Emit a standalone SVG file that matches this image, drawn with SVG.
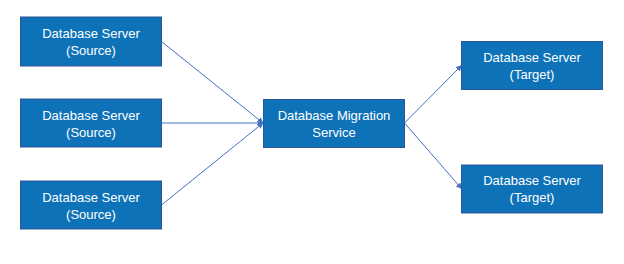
<svg xmlns="http://www.w3.org/2000/svg" width="624" height="264" viewBox="0 0 624 264">
<defs>
<style>
.box{fill:#0E72B8;stroke:#2F5597;stroke-width:1}
.lbl{font-family:"Liberation Sans",Arial,sans-serif;font-size:13px;fill:#FFFFFF;text-anchor:middle}
.con{stroke:#4472C4;stroke-width:1;fill:none;marker-end:url(#arr)}
</style>
<marker id="arr" viewBox="0 0 10 10" refX="9" refY="5" markerWidth="6" markerHeight="6" orient="auto" markerUnits="userSpaceOnUse">
<path d="M0,0 L10,5 L0,10 z" fill="#4472C4"/>
</marker>
</defs>
<rect width="624" height="264" fill="#FFFFFF"/>
<g id="connectors">
<line class="con" x1="161.5" y1="41.5" x2="263" y2="123"/>
<line class="con" x1="161.5" y1="123" x2="263" y2="123"/>
<line class="con" x1="161.5" y1="205" x2="263" y2="123"/>
<line class="con" x1="404.5" y1="123" x2="461.5" y2="65.5"/>
<line class="con" x1="404.5" y1="123" x2="461.5" y2="188.5"/>
</g>
<g id="source1">
<rect class="box" x="20.5" y="17" width="141" height="49"/>
<text class="lbl" x="91" y="38">Database Server</text>
<text class="lbl" x="91" y="55">(Source)</text>
</g>
<g id="source2">
<rect class="box" x="20.5" y="99" width="141" height="48"/>
<text class="lbl" x="91" y="119.5">Database Server</text>
<text class="lbl" x="91" y="136.5">(Source)</text>
</g>
<g id="source3">
<rect class="box" x="20.5" y="181" width="141" height="48"/>
<text class="lbl" x="91" y="201.5">Database Server</text>
<text class="lbl" x="91" y="218.5">(Source)</text>
</g>
<g id="dms">
<rect class="box" x="263.5" y="99.5" width="141" height="48"/>
<text class="lbl" x="334" y="119.5">Database Migration</text>
<text class="lbl" x="334" y="136.5">Service</text>
</g>
<g id="target1">
<rect class="box" x="461.5" y="41.5" width="141" height="48"/>
<text class="lbl" x="532" y="61.5">Database Server</text>
<text class="lbl" x="532" y="78.5">(Target)</text>
</g>
<g id="target2">
<rect class="box" x="461.5" y="165" width="141" height="48"/>
<text class="lbl" x="532" y="185">Database Server</text>
<text class="lbl" x="532" y="202">(Target)</text>
</g>
</svg>
